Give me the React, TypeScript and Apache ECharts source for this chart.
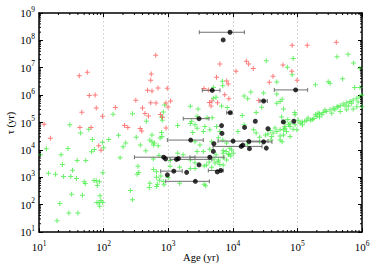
import React, { useEffect, useRef } from 'react';
import * as echarts from 'echarts';

// Green population
const greenAge = [10.5, 13, 14, 18, 19, 21, 22, 23, 24, 28, 29, 30, 31, 32, 33, 38, 39, 40, 44, 47, 50, 52, 53, 59, 67, 65, 72, 71, 77, 80, 86, 79, 85, 87, 88, 91, 97, 97, 96, 100,
  120, 140, 170, 180, 200, 220, 260, 280, 280, 320, 350, 330, 340, 370, 450, 460, 510, 520, 520, 560, 560, 590, 590, 590, 610, 660, 660, 680, 660, 700,
  720, 730, 750, 770, 790, 790, 810, 800, 840, 880, 840, 860, 1000, 1070, 1070, 1400, 1400, 1500, 1500, 1700, 2200, 2200, 2200, 2400, 2600, 2800, 2800, 2900, 2200, 2300,
  2600, 2600, 2600, 2800, 3100, 3500, 3500, 3600, 3600, 3800, 3700, 3900, 4000, 4300, 4400, 4400, 4700, 4700, 4800, 5000, 5000, 5100, 5300, 5500, 5500, 5600, 5900, 6000, 6000, 6300,
  6300, 6900, 7000, 6700, 7000, 7100, 7100, 7100, 7100, 7900, 8000, 8000, 8200, 8500, 8800, 9000, 9300, 9600, 10200, 12000, 14000, 15000, 15000, 17000, 19000, 21000, 23000, 23000,
  26000, 28000, 30000, 32000, 33000, 38000, 39000, 40000, 42000, 48000, 48000, 48000, 48000, 54000, 54000, 54000, 54000, 57000, 58000, 58000, 61000, 61000, 61000, 64000, 64000, 64000,
  68000, 70000, 71000, 73000, 77000, 77000, 77000, 83000, 86000, 86000, 91000, 92000, 92000, 98000, 103000, 110000, 120000, 130000, 140000, 160000, 170000, 180000, 190000, 190000,
  200000, 220000, 220000, 240000, 250000, 280000, 300000, 320000, 320000, 340000, 360000, 380000, 410000, 410000, 460000, 460000, 500000, 510000, 580000, 580000, 610000, 650000,
  690000, 730000, 730000, 740000, 770000, 830000, 830000, 930000, 930000, 930000, 990000, 990000,
  118000, 146000, 208000, 267000, 425000, 546000, 620000, 870000, 45000, 35000, 26000, 17000];
const greenTau = [6600, 10900, 1400, 1300, 26, 110, 6700, 2900, 1060, 11300, 49, 82000, 1060, 240, 1800, 900, 4100, 49, 41000, 220, 680, 590, 4100, 57000, 24000, 8500, 10400, 760, 740, 500, 680, 120, 116, 88, 210, 140, 120, 1450, 19000, 12000,
  24000, 200000, 34000, 5200, 13000, 18000, 330, 150, 210000, 29000, 1500, 1300, 2500, 15000, 9200, 110000, 420, 610, 23000, 35000, 20000, 15000, 4600, 1900, 18000, 1600, 1000, 560, 460, 14000,
  6200, 770, 27000, 1100, 43000, 160000, 120000, 31000, 240000, 440000, 700, 530, 980, 4100, 2500, 77000, 7600, 2300, 610, 6600, 4300, 390000, 91000, 43000, 3400, 62000, 170000, 310000, 2100, 110000,
  82000, 20000, 2100, 8700, 15000, 47000, 8700, 2600, 560, 490, 71000, 2800, 150000, 3600, 54000, 10600, 20000, 2300, 150000, 1900000, 770000, 4600, 3300, 6600, 840000, 71000, 3700, 28000, 4300, 47000,
  2900, 3200000, 2200000, 400000, 23000, 9400, 7600, 5200, 2800, 8700, 18000, 4300, 350000, 6600, 7100, 11500, 6000, 10000, 7600, 47000, 180000, 82000, 930000, 730000, 1300000, 54000, 230000, 41000,
  29000, 360000, 1200000, 35000, 18000000, 51000, 23000, 31000, 41000, 47000, 3000000, 1100000, 510000, 580000, 54000, 32000, 23000, 160000, 710000, 20000, 310000, 54000, 35000, 105000, 71000, 62000,
  47000, 10400000, 130000, 82000, 94000, 71000, 31000, 5500000, 22000000, 57000, 230000, 190000, 82000, 54000, 120000, 94000, 82000, 110000, 120000, 120000, 130000, 140000, 190000, 2400000,
  170000, 210000, 160000, 190000, 230000, 250000, 3100000, 2700000, 290000, 220000, 330000, 290000, 25000000, 380000, 410000, 250000, 4000000, 470000, 530000, 290000, 31000000, 580000,
  510000, 670000, 310000, 15000000, 1900000, 770000, 380000, 9600000, 1900000, 880000, 1000000, 380000,
  105000, 147000, 224000, 288000, 370000, 404000, 404000, 562000, 63000, 38000, 19600, 16500];

// Red population
const redAge = [42, 56, 60, 74, 46, 77, 96, 152, 12, 43, 64, 211, 237, 15, 84, 91, 315, 479, 400, 437, 495, 369, 389, 641, 6300, 16200, 17600, 20800, 547, 536,
  11200, 5600, 8050, 8500, 561, 695, 968, 1090, 536, 648, 925, 993, 4360, 4600, 4760, 5800, 7500, 8700, 25200, 925, 757, 816, 3580, 4180, 59800, 36700, 41900, 83000, 142000, 400000, 82000, 99000];
const redTau = [5150000, 6900000, 975000, 1020000, 238000, 341000, 170000, 356000, 87000, 66000, 65000, 78000, 66000, 26700, 14000, 9700, 650000, 1520000, 336000, 213000, 174000, 61000, 49300, 28600000, 13800000, 17300000, 13800000, 9300000, 5900000, 3500000,
  7450000, 4500000, 3300000, 2560000, 1420000, 1830000, 1790000, 610000, 530000, 520000, 520000, 370000, 540000, 404000, 610000, 530000, 1040000, 730000, 630000, 63500, 194000, 156000, 1730000, 1550000, 12600000, 2980000, 4850000, 66000000, 66000000, 85000000, 7450000, 3500000];

// Black sources with age uncertainty (null = no error bar)
const blackAge = [9060, 7100, 4800, 3000, 9100, 6700, 15200, 22300, 94000, 30000, 60500, 88000, 35000, 30000, 33000, 6800, 2230, 10100, 17700, 14300, 13500, 18100, 5100, 5000, 4400, 850, 910, 1340, 1440, 3000, 5750, 6500, 1220, 1930, 970, 2630];
const blackTau = [198000000, 104000000, 1490000, 138000, 228000, 77000, 66000, 111000, 1550000, 610000, 105000, 111000, 59000, 19600, 11600, 40000, 22800, 20900, 20400, 15000, 13400, 11100, 16800, 8800, 5400, 5400, 4700, 4500, 4800, 2840, 1570, 1760, 1670, 1510, 1220, 710];
const blackAgeLo = [3030, null, 3370, 1710, 8050, null, null, null, 43900, 26400, null, null, null, 18500, null, null, 970, 5900, null, null, 4940, null, null, null, 2170, 300, null, 1070, null, null, null, 4180, 765, null, null, 915];
const blackAgeHi = [15100, null, 6340, 4280, 9720, null, null, null, 144000, 34200, null, null, null, 40400, null, null, 3490, 35100, null, null, 28300, null, null, null, 7310, 2600, null, 4760, null, null, null, 7130, 1650, null, null, 4330];

const X_MIN = 10, X_MAX = 1e6, Y_MIN = 10, Y_MAX = 1e9;
const minorMult = [2, 3, 4, 5, 6, 7, 8, 9];
const xDecades = [10, 100, 1000, 10000, 100000];
const yDecades = [10, 100, 1000, 10000, 100000, 1e6, 1e7, 1e8];
const xTitle = 'Age (yr)';
const yTitle = 'τ (yr)';

const PLUS = 'path://M4,0H6V4H10V6H6V10H4V6H0V4H4Z';
const SERIF = '"Liberation Serif", "DejaVu Serif", serif';

export default function App() {
  const ref = useRef<HTMLDivElement>(null);
  useEffect(() => {
    if (!ref.current) return;
    const chart = echarts.init(ref.current, undefined, { renderer: 'svg' });

    const xMinor: number[][] = [];
    xDecades.forEach((d) => minorMult.forEach((m) => xMinor.push([d * m, Y_MIN])));
    const yMinor: number[][] = [];
    yDecades.forEach((d) => minorMult.forEach((m) => yMinor.push([X_MIN, d * m])));

    const errData: number[][] = [];
    blackAge.forEach((_, i) => {
      if (blackAgeLo[i] != null && blackAgeHi[i] != null) errData.push([blackAgeLo[i] as number, blackAgeHi[i] as number, blackTau[i]]);
    });

    const labelFmt = (v: number) => `{b|10}{s|${Math.round(Math.log10(v))}}`;
    const rich = {
      b: { fontSize: 11, fontFamily: SERIF, color: '#000' },
      s: { fontSize: 7.5, fontFamily: SERIF, color: '#000', padding: [0, 0, 8, 0] },
    };
    const axisLine = { show: true, onZero: false, lineStyle: { color: '#000', width: 1.5 } };

    chart.setOption({
      animation: false,
      backgroundColor: '#fff',
      grid: { left: 39, right: 20, top: 13, bottom: 35, containLabel: false, outerBoundsMode: 'none' },
      graphic: [
        {
          type: 'text', x: 201, y: 257, silent: true,
          style: { text: xTitle, font: `10.5px ${SERIF}`, fill: '#000', textAlign: 'center', textVerticalAlign: 'middle' },
        },
        {
          type: 'text', x: 10, y: 123, rotation: Math.PI / 2, silent: true,
          style: { text: yTitle, font: `10.5px ${SERIF}`, fill: '#000', textAlign: 'center', textVerticalAlign: 'middle' },
        },
      ],
      xAxis: [
        {
          type: 'log', logBase: 10, min: X_MIN, max: X_MAX, position: 'bottom',
          axisLine, axisTick: { show: true, inside: true, length: 4, lineStyle: { color: '#000', width: 1 } },
          axisLabel: { show: true, formatter: labelFmt, rich, margin: 7, showMinLabel: true, showMaxLabel: true, hideOverlap: false },
          splitLine: { show: true, lineStyle: { color: '#d8d8d8', width: 1, type: [2, 2] } },
        },
        {
          type: 'log', logBase: 10, min: X_MIN, max: X_MAX, position: 'top',
          axisLine, axisTick: { show: true, inside: true, length: 4, lineStyle: { color: '#000', width: 1 } },
          axisLabel: { show: false }, splitLine: { show: false },
        },
      ],
      yAxis: [
        {
          type: 'log', logBase: 10, min: Y_MIN, max: Y_MAX, splitNumber: 8, position: 'left',
          axisLine, axisTick: { show: true, inside: true, length: 4, lineStyle: { color: '#000', width: 1 } },
          axisLabel: { show: true, formatter: labelFmt, rich, margin: 4, showMinLabel: true, showMaxLabel: true, hideOverlap: false },
          splitLine: { show: false },
        },
        {
          type: 'log', logBase: 10, min: Y_MIN, max: Y_MAX, splitNumber: 8, position: 'right',
          axisLine, axisTick: { show: true, inside: true, length: 4, lineStyle: { color: '#000', width: 1 } },
          axisLabel: { show: false }, splitLine: { show: false },
        },
      ],
      series: [
        {
          type: 'scatter', name: 'green', symbol: PLUS, symbolSize: 5, z: 2,
          itemStyle: { color: '#44ee44' },
          data: greenAge.map((a, i) => [a, greenTau[i]]),
        },
        {
          type: 'scatter', name: 'red', symbol: PLUS, symbolSize: 5, z: 3,
          itemStyle: { color: '#ff5a5a' },
          data: redAge.map((a, i) => [a, redTau[i]]),
        },
        {
          type: 'custom', name: 'errors', z: 4,
          encode: { x: [0, 1], y: 2 },
          data: errData,
          renderItem: (_p: any, api: any) => {
            const lo = api.coord([api.value(0), api.value(2)]);
            const hi = api.coord([api.value(1), api.value(2)]);
            const st = { stroke: '#707070', lineWidth: 1 };
            return {
              type: 'group',
              children: [
                { type: 'line', shape: { x1: lo[0], y1: lo[1], x2: hi[0], y2: hi[1] }, style: st },
                { type: 'line', shape: { x1: lo[0], y1: lo[1] - 2, x2: lo[0], y2: lo[1] + 2 }, style: st },
                { type: 'line', shape: { x1: hi[0], y1: hi[1] - 2, x2: hi[0], y2: hi[1] + 2 }, style: st },
              ],
            };
          },
        },
        {
          type: 'scatter', name: 'black', symbol: 'circle', symbolSize: 5, z: 5,
          itemStyle: { color: '#000' },
          data: blackAge.map((a, i) => [a, blackTau[i]]),
        },
        {
          type: 'custom', name: 'xminor', z: 6, silent: true,
          encode: { x: 0, y: 1 },
          data: xMinor,
          renderItem: (_p: any, api: any) => {
            const v = api.value(0);
            const b = api.coord([v, Y_MIN]);
            const t = api.coord([v, Y_MAX]);
            const st = { stroke: '#000', lineWidth: 1 };
            return {
              type: 'group',
              children: [
                { type: 'line', shape: { x1: b[0], y1: b[1], x2: b[0], y2: b[1] - 2 }, style: st },
                { type: 'line', shape: { x1: t[0], y1: t[1], x2: t[0], y2: t[1] + 2 }, style: st },
              ],
            };
          },
        },
        {
          type: 'custom', name: 'yminor', z: 6, silent: true,
          encode: { x: 0, y: 1 },
          data: yMinor,
          renderItem: (_p: any, api: any) => {
            const v = api.value(1);
            const l = api.coord([X_MIN, v]);
            const r = api.coord([X_MAX, v]);
            const st = { stroke: '#000', lineWidth: 1 };
            return {
              type: 'group',
              children: [
                { type: 'line', shape: { x1: l[0], y1: l[1], x2: l[0] + 2, y2: l[1] }, style: st },
                { type: 'line', shape: { x1: r[0], y1: r[1], x2: r[0] - 2, y2: r[1] }, style: st },
              ],
            };
          },
        },
      ],
    });
    return () => chart.dispose();
  }, []);

  return (
    <div
      ref={ref}
      style={{ position: 'fixed', left: 0, top: 0, width: 382, height: 267, background: '#fff' }}
    />
  );
}
